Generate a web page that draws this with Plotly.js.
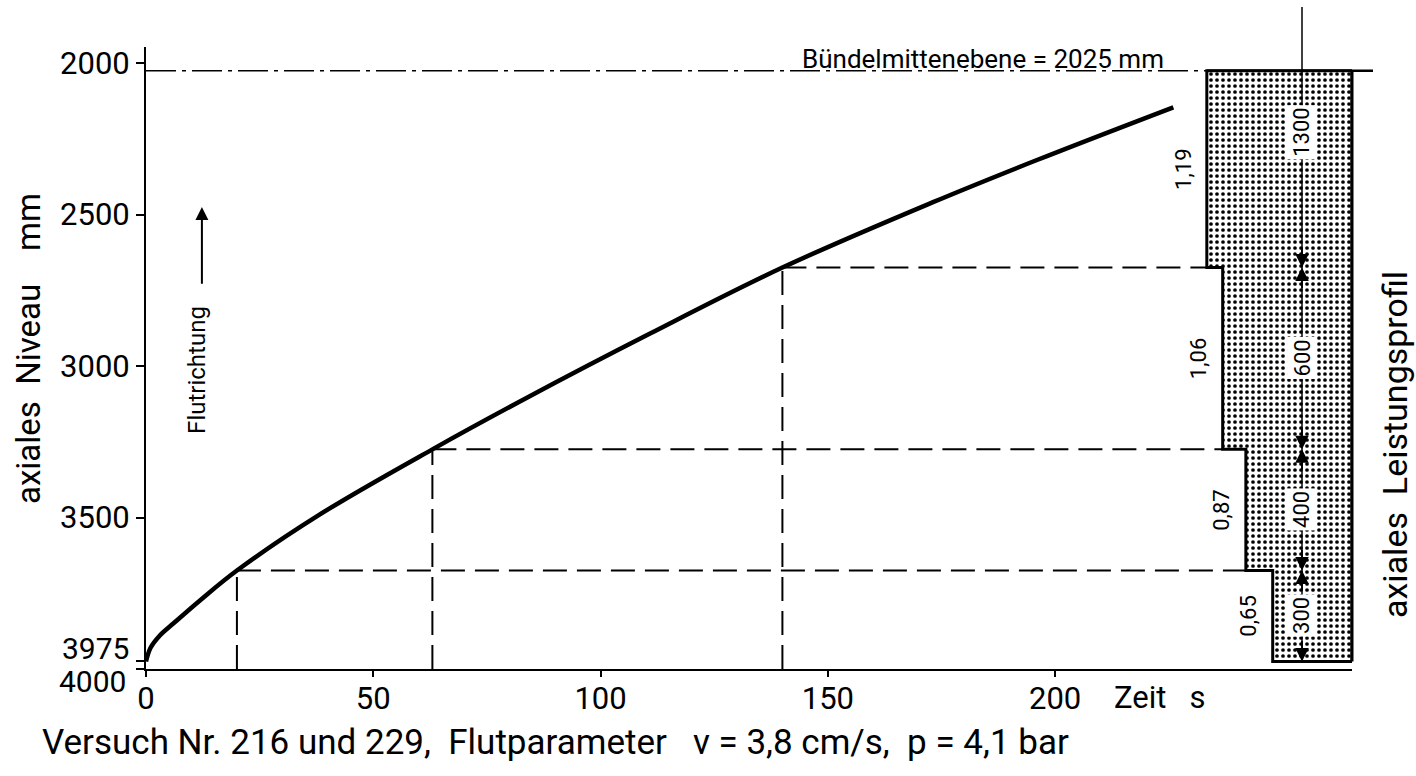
<!DOCTYPE html>
<html>
<head>
<meta charset="utf-8">
<script src="https://cdn.plot.ly/plotly-3.0.1.min.js"></script>
<style>html,body{margin:0;padding:0;background:#fff;}#chart{width:1416px;height:776px;}</style>
</head>
<body>
<div id="chart"></div>
<script>
// ---- data ----
const time  = [0, 1, 3, 6, 12, 20, 38, 63, 84, 111, 140, 173, 196, 226];            // Zeit s
const level = [3975, 3930, 3890, 3850, 3772, 3675, 3492, 3275, 3103, 2892, 2675, 2460, 2320, 2146]; // axiales Niveau mm
const crossTimes   = [20, 63, 140];                     // times at which the front passes a power step
const boundaries   = [3975, 3675, 3275, 2675, 2025];    // step boundaries of the axial power profile (mm)
const powers       = [0.65, 0.87, 1.06, 1.19];          // relative power of each step (bottom -> top)
const powerLabels  = ['0,65', '0,87', '1,06', '1,19'];
const lengthLabels = ['300', '400', '600', '1300'];
const midplane     = 2025;
const xTicks = [0, 50, 100, 150, 200];
const yTicks = [2000, 2500, 3000, 3500, 3975, 4000];
const yTickText = ['2000', '2500', '3000', '3500', '', ''];

// ---- geometry ----
const L = 146, R = 1352, T = 47, B = 669;
const X1 = 265.3, P0 = 9.885, YBOT = 4000, YTOP = 1947;
const FONT = 'Roboto, "DejaVu Sans", sans-serif';
const pxX = p => (p - L) / (R - L);
const pxY = p => (B - p) / (B - T);
const yPaper = v => (YBOT - v) / (YBOT - YTOP);
const x2Main = p => X1 * (1 - p / P0);
const x2Paper = p => 1 - p / P0;

// profile polygon built from the data
const profX = [0], profY = [boundaries[boundaries.length - 1]];
for (let i = powers.length - 1; i >= 0; i--) {
  profX.push(powers[i], powers[i]);
  profY.push(boundaries[i + 1], boundaries[i]);
}
profX.push(0, 0); profY.push(boundaries[0], boundaries[boundaries.length - 1]);

const traces = [
  {x: profX, y: profY, xaxis: 'x2', yaxis: 'y', mode: 'lines', fill: 'toself',
   fillcolor: 'rgba(0,0,0,0)',
   fillpattern: {shape: '.', fgcolor: '#000', bgcolor: '#fff', size: 6, solidity: 0.3},
   line: {color: '#000', width: 3}, hoverinfo: 'skip', showlegend: false},
  {x: time, y: level, mode: 'lines', line: {color: '#000', width: 4.5, shape: 'spline', smoothing: 1},
   showlegend: false}
];

const dash = '24px,10px';
const shapes = [];
crossTimes.forEach((t, i) => {
  const yb = boundaries[i + 1];
  shapes.push({type: 'line', xref: 'x', yref: 'y', x0: t, x1: t, y0: YBOT, y1: yb,
               line: {color: '#000', width: 2, dash: dash}});
  shapes.push({type: 'line', xref: 'x', yref: 'y', x0: t, x1: x2Main(powers[i + 1]), y0: yb, y1: yb,
               line: {color: '#000', width: 2, dash: dash}});
});
// mid-plane dash-dot line
const topP = powers[powers.length - 1];
shapes.push({type: 'line', xref: 'paper', yref: 'paper', x0: 0, x1: x2Paper(topP),
             y0: yPaper(midplane), y1: yPaper(midplane), line: {color: '#000', width: 1.5, dash: '30px,6px,4px,6px'}});
shapes.push({type: 'line', xref: 'paper', yref: 'paper', x0: x2Paper(topP), x1: pxX(1373),
             y0: yPaper(midplane), y1: yPaper(midplane), line: {color: '#000', width: 2.5}});
// right edge of profile
shapes.push({type: 'line', xref: 'paper', yref: 'paper', x0: 1, x1: 1,
             y0: yPaper(boundaries[0]), y1: yPaper(midplane), line: {color: '#000', width: 3}});
// dimension line
const dimX = pxX(1302);
shapes.push({type: 'line', xref: 'paper', yref: 'paper', x0: dimX, x1: dimX,
             y0: yPaper(boundaries[0]), y1: pxY(7), line: {color: '#000', width: 1.5}});

const annotations = [];
const lab = {family: FONT, size: 22, color: '#000'};
// power labels and length labels
powers.forEach((p, i) => {
  const mid = (boundaries[i] + boundaries[i + 1]) / 2;
  annotations.push({xref: 'x2', yref: 'y', x: p, y: mid, xshift: -24, xanchor: 'center', yanchor: 'middle',
                    text: powerLabels[i], textangle: -90, showarrow: false, font: lab});
});
lengthLabels.forEach((s, i) => {
  const top = i === lengthLabels.length - 1;
  const y = top ? 2230 : (boundaries[i] + boundaries[i + 1]) / 2;
  annotations.push({xref: 'paper', yref: 'y', x: dimX, y: y, xanchor: 'center', yanchor: 'middle',
                    text: s, textangle: -90, showarrow: false, font: lab, bgcolor: '#fff', borderpad: 2});
});
// dimension arrowheads
for (let i = 0; i < boundaries.length - 1; i++) {
  annotations.push({xref: 'paper', yref: 'y', x: dimX, y: boundaries[i], ax: 0, ay: -22, text: '',
                    showarrow: true, arrowhead: 2, arrowsize: 1.5, arrowwidth: 1.8, arrowcolor: '#000'});
  if (i < boundaries.length - 2) {
    annotations.push({xref: 'paper', yref: 'y', x: dimX, y: boundaries[i + 1], ax: 0, ay: 22, text: '',
                      showarrow: true, arrowhead: 2, arrowsize: 1.5, arrowwidth: 1.8, arrowcolor: '#000'});
  }
}
// Flutrichtung
annotations.push({xref: 'x', yref: 'y', x: 11.2, y: 3013, xanchor: 'center', yanchor: 'middle',
                  text: 'Flutrichtung', textangle: -90, showarrow: false,
                  font: {family: FONT, size: 24, color: '#000'}});
annotations.push({xref: 'x', yref: 'y', axref: 'x', ayref: 'y', x: 12.3, y: 2475, ax: 12.3, ay: 2733,
                  text: '', showarrow: true, arrowhead: 2, arrowsize: 1.3, arrowwidth: 2, arrowcolor: '#000'});
// Bündelmittenebene
annotations.push({xref: 'x', yref: 'y', x: (800 - L) / (R - L) * X1, y: midplane, xanchor: 'left', yanchor: 'bottom',
                  yshift: -5, text: 'Bündelmittenebene = 2025 mm', showarrow: false,
                  font: {family: FONT, size: 26, color: '#000'}});
// extra tick labels
const tk = {family: FONT, size: 31, color: '#000'};
const tk2 = {family: FONT, size: 30, color: '#000'};
annotations.push({xref: 'paper', yref: 'paper', x: pxX(130), y: pxY(648), xanchor: 'right', yanchor: 'middle',
                  text: '3975', showarrow: false, font: tk2, borderpad: 0});
annotations.push({xref: 'paper', yref: 'paper', x: pxX(127), y: pxY(681), xanchor: 'right', yanchor: 'middle',
                  text: '4000', showarrow: false, font: tk2, borderpad: 0});
annotations.push({xref: 'paper', yref: 'paper', x: pxX(1112), y: pxY(697), xanchor: 'left', yanchor: 'middle',
                  text: 'Zeit\u00a0\u00a0 s', showarrow: false, font: tk});
// axis titles
annotations.push({xref: 'paper', yref: 'paper', x: pxX(28), y: pxY(349), xanchor: 'center', yanchor: 'middle',
                  text: 'axiales\u00a0\u00a0Niveau\u00a0\u00a0\u00a0\u00a0mm',
                  textangle: -90, showarrow: false, font: {family: FONT, size: 33, color: '#000'}});
annotations.push({xref: 'paper', yref: 'paper', x: pxX(1395), y: pxY(444), xanchor: 'center', yanchor: 'middle',
                  text: 'axiales\u00a0\u00a0Leistungsprofil',
                  textangle: -90, showarrow: false, font: {family: FONT, size: 34, color: '#000'}});
// caption
annotations.push({xref: 'paper', yref: 'paper', x: pxX(41), y: pxY(742), xanchor: 'left', yanchor: 'middle',
                  text: 'Versuch Nr. 216 und 229,\u00a0 Flutparameter\u00a0\u00a0 v = 3,8 cm/s,\u00a0 p = 4,1 bar',
                  showarrow: false, font: {family: FONT, size: 35, color: '#000'}, borderpad: 0});

const layout = {
  width: 1416, height: 776,
  margin: {l: L, r: 1416 - R, t: T, b: 776 - B},
  paper_bgcolor: '#fff', plot_bgcolor: '#fff',
  font: {family: FONT, color: '#000'},
  showlegend: false,
  xaxis: {range: [0, X1], showline: true, linecolor: '#000', linewidth: 2, ticks: 'outside', ticklen: 6,
          tickwidth: 2, tickcolor: '#000', tickvals: xTicks, ticktext: xTicks.map(String),
          tickfont: tk, showgrid: false, zeroline: false, ticklabelstandoff: -5},
  xaxis2: {overlaying: 'x', range: [P0, 0], visible: false, showgrid: false, zeroline: false},
  yaxis: {range: [YBOT, YTOP], showline: true, linecolor: '#000', linewidth: 2, ticks: 'outside', ticklen: 8,
          tickwidth: 2, tickcolor: '#000', tickvals: yTicks, ticktext: yTickText, tickfont: tk,
          showgrid: false, zeroline: false},
  shapes: shapes,
  annotations: annotations
};

Plotly.newPlot('chart', traces, layout, {staticPlot: true, displayModeBar: false});
</script>
</body>
</html>
